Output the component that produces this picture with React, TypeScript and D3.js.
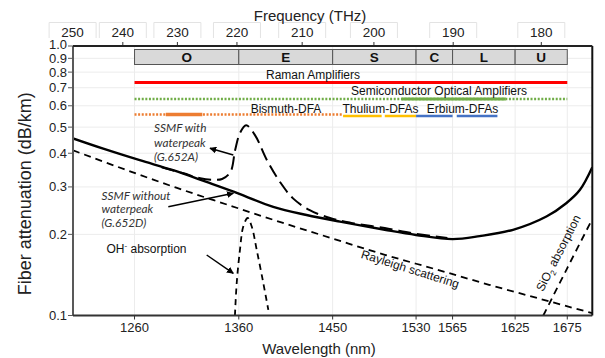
import React from 'react';
import * as d3 from 'd3';

const W = 605;
const H = 358;

// ---- data ----
const yTicks = [1.0, 0.9, 0.8, 0.7, 0.6, 0.5, 0.4, 0.3, 0.2, 0.1];
const wlTicks = [1260, 1360, 1450, 1530, 1565, 1625, 1675];
const freqTicks = [250, 240, 230, 220, 210, 200, 190, 180];
const bandNames = ['O', 'E', 'S', 'C', 'L', 'U'];
const bandEdges = [1260, 1360, 1450, 1530, 1565, 1625, 1675];

const g652dWl = [1201, 1230, 1265, 1297, 1329, 1355, 1393, 1425, 1457, 1500, 1530, 1565, 1591, 1623, 1655, 1674, 1687, 1699];
const g652dAtt = [0.454, 0.416, 0.377, 0.346, 0.313, 0.288, 0.253, 0.236, 0.223, 0.208, 0.199, 0.192, 0.197, 0.208, 0.233, 0.261, 0.292, 0.355];

const g652aWl = [1286, 1307, 1323, 1335, 1344, 1352, 1356.5, 1361, 1367, 1375.5, 1387, 1399.5, 1412, 1428, 1447.5, 1467, 1500, 1530, 1560];
const g652aAtt = [0.355, 0.337, 0.323, 0.319, 0.321, 0.341, 0.411, 0.474, 0.508, 0.467, 0.377, 0.313, 0.272, 0.246, 0.23, 0.221, 0.211, 0.201, 0.194];

const rayleighWl = [1201, 1250, 1300, 1350, 1400, 1450, 1500, 1550, 1600, 1650, 1699];
const rayleighAtt = [0.41, 0.349, 0.298, 0.257, 0.222, 0.193, 0.168, 0.148, 0.13, 0.115, 0.102];

const ohWl = [1356.3, 1358, 1361.1, 1364.3, 1368.5, 1372.4, 1377.2, 1383.5, 1388.3];
const ohAtt = [0.1, 0.132, 0.175, 0.214, 0.23, 0.214, 0.175, 0.132, 0.105];

const sio2Wl = [1652, 1675, 1698.5];
const sio2Att = [0.1, 0.15, 0.226];

const ramanRange = [1260, 1675];
const soaDottedRange = [1260, 1675];
const soaSolidRange = [1516, 1616];
const bismuthDottedRange = [1260, 1460];
const bismuthSolidRange = [1290, 1325];
const thuliumRanges = [[1460, 1497], [1500, 1530]];
const erbiumRanges = [[1530, 1565], [1569, 1608]];

// ---- layout ----
const L = 73, R = 592.3, T = 46, B = 315.5;
const SANS = "'Liberation Sans', Arial, sans-serif";
const ITAL = "Lato, 'Open Sans', sans-serif";

export default function App() {
  const x = d3.scaleLinear().domain([1201, 1699]).range([L, R]);
  const y = d3.scaleLog().domain([0.1, 1]).range([B, T]);
  const xTop = d3.scaleLinear().domain([1 / 250, 1 / 180]).range([72.6, 541.3]);

  const line = d3.line<[number, number]>()
    .x(d => x(d[0]))
    .y(d => y(d[1]))
    .curve(d3.curveCatmullRom.alpha(0.5));
  const zip = (a: number[], b: number[]) => a.map((v, i) => [v, b[i]] as [number, number]);

  const ramanY = 82.5, soaY = 99, bisY = 114.5, tmY = 116;

  return (
    <svg width={W} height={H} style={{ display: 'block', position: 'absolute', left: 0, top: 0, background: '#fff' }}>
      <defs>
        <clipPath id="plot"><rect x={L} y={T} width={R - L} height={B - T} /></clipPath>
        <marker id="ah" viewBox="0 0 10 10" refX="9" refY="5" markerWidth="7" markerHeight="7" orient="auto-start-reverse" markerUnits="userSpaceOnUse">
          <path d="M0,0 L10,5 L0,10 z" fill="#000" />
        </marker>
      </defs>

      {/* frequency label boxes */}
      {freqTicks.map(f => {
        const cx = xTop(1 / f);
        return <path key={'fb' + f} d={`M${cx - 23.5},38 V22.5 H${cx + 23.5} V38`} fill="none" stroke="#e3e3e3" strokeWidth={1} />;
      })}
      <text x={310} y={21} textAnchor="middle" fontFamily={SANS} fontSize={15} fill="#222">Frequency (THz)</text>
      {freqTicks.map(f => (
        <text key={'ft' + f} x={xTop(1 / f)} y={36.5} textAnchor="middle" fontFamily={SANS} fontSize={13.5} fill="#222">{f}</text>
      ))}
      {freqTicks.filter(f => xTop(1 / f) > L + 2).map(f => (
        <line key={'ftk' + f} x1={xTop(1 / f)} x2={xTop(1 / f)} y1={T - 4} y2={T} stroke="#333" strokeWidth={1} />
      ))}

      {/* grid */}
      {wlTicks.map(t => (
        <line key={'gv' + t} x1={x(t)} x2={x(t)} y1={T} y2={B} stroke="#ececec" strokeWidth={1} />
      ))}
      {yTicks.map(t => (
        <line key={'gh' + t} x1={L} x2={R} y1={y(t)} y2={y(t)} stroke="#ececec" strokeWidth={1} />
      ))}

      {/* bands */}
      {bandNames.map((n, i) => (
        <g key={'b' + n}>
          <rect x={x(bandEdges[i])} y={49.5} width={x(bandEdges[i + 1]) - x(bandEdges[i])} height={15} fill="#d9d9d9" stroke="#555" strokeWidth={1} />
          <text x={(x(bandEdges[i]) + x(bandEdges[i + 1])) / 2} y={61.8} textAnchor="middle" fontFamily={SANS} fontWeight="bold" fontSize={13.5} fill="#111">{n}</text>
        </g>
      ))}

      {/* amplifiers */}
      <line x1={x(ramanRange[0])} x2={x(ramanRange[1])} y1={ramanY} y2={ramanY} stroke="#ff0000" strokeWidth={3.2} />
      <text x={313} y={79} textAnchor="middle" fontFamily={SANS} fontSize={12} fill="#111">Raman  Amplifiers</text>

      <line x1={x(soaDottedRange[0])} x2={x(soaDottedRange[1])} y1={soaY} y2={soaY} stroke="#70ad47" strokeWidth={2.6} strokeDasharray="2,1.6" />
      <line x1={x(soaSolidRange[0])} x2={x(soaSolidRange[1])} y1={soaY} y2={soaY} stroke="#70ad47" strokeWidth={3.2} />
      <text x={439} y={95} textAnchor="middle" fontFamily={SANS} fontSize={12} fill="#111">Semiconductor  Optical  Amplifiers</text>

      <line x1={x(bismuthDottedRange[0])} x2={x(bismuthDottedRange[1])} y1={bisY} y2={bisY} stroke="#ed7d31" strokeWidth={2.6} strokeDasharray="2,1.6" />
      <line x1={x(bismuthSolidRange[0])} x2={x(bismuthSolidRange[1])} y1={bisY} y2={bisY} stroke="#ed7d31" strokeWidth={3.4} />
      <text x={286} y={112.5} textAnchor="middle" fontFamily={SANS} fontSize={12} fill="#111">Bismuth-DFA</text>

      {thuliumRanges.map((r, i) => (
        <line key={'tm' + i} x1={x(r[0])} x2={x(r[1])} y1={tmY} y2={tmY} stroke="#ffc000" strokeWidth={2.4} />
      ))}
      {erbiumRanges.map((r, i) => (
        <line key={'er' + i} x1={x(r[0])} x2={x(r[1])} y1={tmY} y2={tmY} stroke="#4472c4" strokeWidth={2.4} />
      ))}
      <text x={380.5} y={113} textAnchor="middle" fontFamily={SANS} fontSize={12} fill="#111">Thulium-DFAs</text>
      <text x={462.5} y={113} textAnchor="middle" fontFamily={SANS} fontSize={12} fill="#111">Erbium-DFAs</text>

      {/* curves */}
      <g clipPath="url(#plot)" fill="none" stroke="#000">
        <path d={line(zip(rayleighWl, rayleighAtt)) || ''} strokeWidth={1.8} strokeDasharray="7,5" />
        <path d={line(zip(sio2Wl, sio2Att)) || ''} strokeWidth={1.8} strokeDasharray="7,5" />
        <path d={line(zip(ohWl, ohAtt)) || ''} strokeWidth={1.8} strokeDasharray="6,4.5" />
        <path d={line(zip(g652dWl, g652dAtt)) || ''} strokeWidth={2.4} />
        <path d={line(zip(g652aWl, g652aAtt)) || ''} strokeWidth={2} strokeDasharray="13,6" />
      </g>

      {/* frame */}
      <line x1={L} x2={L} y1={T} y2={B} stroke="#595959" strokeWidth={2} />
      <line x1={L} x2={R} y1={B} y2={B} stroke="#333" strokeWidth={2} />
      <line x1={R} x2={R} y1={T} y2={B} stroke="#111" strokeWidth={2} />
      <line x1={L} x2={R} y1={T} y2={T} stroke="#222" strokeWidth={2} />

      {/* y axis */}
      {yTicks.map(t => (
        <g key={'yt' + t}>
          <line x1={L - 5} x2={L} y1={y(t)} y2={y(t)} stroke="#595959" strokeWidth={1} />
          <text x={67} y={y(t) - (t === 1 ? 1.2 : 0)} dy="0.35em" textAnchor="end" fontFamily={SANS} fontSize={13} fill="#222">{t.toFixed(1)}</text>
        </g>
      ))}
      <text transform={`translate(31,${(T + B) / 2 + 13}) rotate(-90)`} textAnchor="middle" fontFamily={SANS} fontSize={18} fill="#222">Fiber attenuation (dB/km)</text>

      {/* x axis */}
      {wlTicks.map(t => (
        <g key={'xt' + t}>
          <line x1={x(t)} x2={x(t)} y1={B} y2={B + 4} stroke="#333" strokeWidth={1} />
          <text x={x(t)} y={332} textAnchor="middle" fontFamily={SANS} fontSize={13} fill="#222">{t}</text>
        </g>
      ))}
      <text x={319} y={354} textAnchor="middle" fontFamily={SANS} fontSize={15} fill="#222">Wavelength (nm)</text>

      {/* annotations */}
      <g fontFamily={ITAL} fontStyle="italic" fontSize={11.8} fill="#333">
        <text x={154} y={132}>SSMF with</text>
        <text x={154} y={146.5}>waterpeak</text>
        <text x={154} y={160.5}>(G.652A)</text>
        <text x={101.5} y={199.5}>SSMF without</text>
        <text x={101.5} y={213}>waterpeak</text>
        <text x={101.5} y={227}>(G.652D)</text>
      </g>
      <text x={106.5} y={252.5} fontFamily={SANS} fontSize={12} fill="#111">OH<tspan dy="-5" fontSize={8}>-</tspan><tspan dy="5"> absorption</tspan></text>

      <g stroke="#000" strokeWidth={1.5} fill="none">
        <line x1={233.3} y1={155} x2={210} y2={148.3} markerEnd="url(#ah)" />
        <line x1={168.3} y1={206.7} x2={233.3} y2={193.3} markerEnd="url(#ah)" />
        <line x1={206.7} y1={255} x2={233.3} y2={273.3} markerEnd="url(#ah)" />
      </g>

      <text transform="translate(409,273) rotate(17.5)" textAnchor="middle" fontFamily={SANS} fontSize={12} fill="#111">Rayleigh  scattering</text>
      <text transform="translate(562,255) rotate(-63)" textAnchor="middle" fontFamily={SANS} fontSize={12} fill="#111">SiO<tspan fontSize={8} dy="3">2</tspan><tspan dy="-3"> absorption</tspan></text>
    </svg>
  );
}
